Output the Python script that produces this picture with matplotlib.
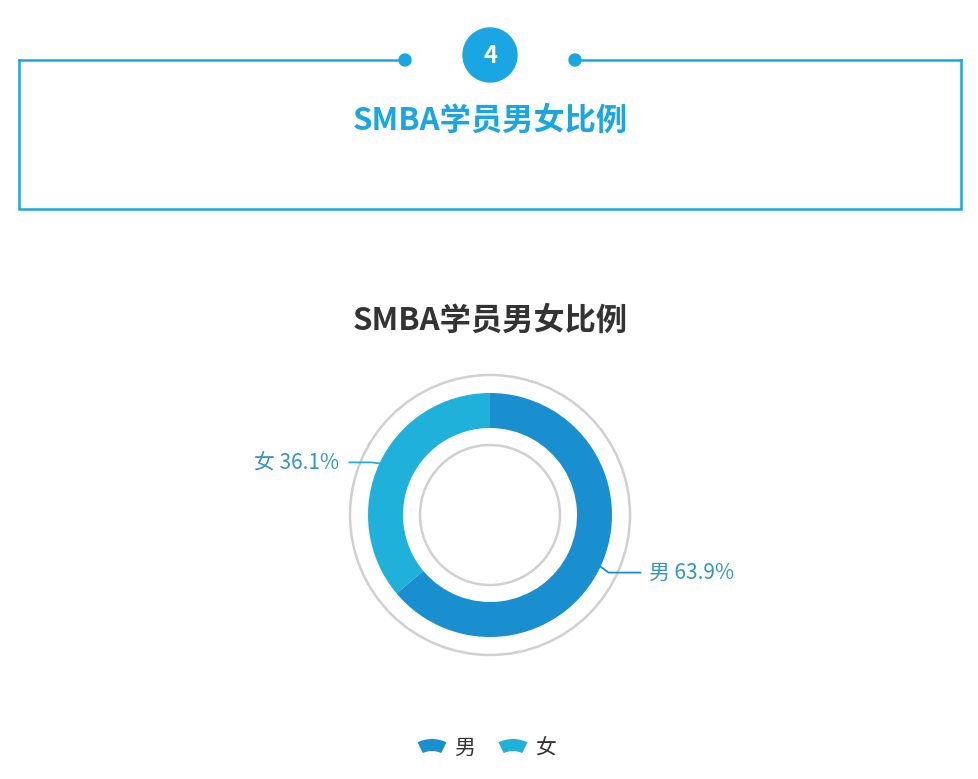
import matplotlib
matplotlib.use("Agg")
import matplotlib.pyplot as plt
from matplotlib.patches import Circle, Wedge
import numpy as np

plt.rcParams['font.family'] = ['Noto Sans CJK SC', 'DejaVu Sans']

# data
labels = ['男', '女']
shares = [63.9, 36.1]
colors = ['#1a8fd0', '#1fb1d9']
title = 'SMBA学员男女比例'
section_no = '4'

W, H = 979, 779
blue = '#1aa6e2'

fig = plt.figure(figsize=(W / 100, H / 100), dpi=100)
ax = fig.add_axes([0, 0, 1, 1])

# donut
cx, cy, r = 490, H - 515, 122
wedges, _ = ax.pie(shares, colors=colors, startangle=90, counterclock=False,
                   radius=r, center=(cx, cy), frame=True,
                   wedgeprops=dict(width=35, linewidth=0))
ax.set_xlim(0, W)
ax.set_ylim(0, H)
ax.set_aspect('auto')
ax.axis('off')
ax.add_patch(Circle((cx, cy), 140, fill=False, ec='#d0d0d0', lw=1.8))
ax.add_patch(Circle((cx, cy), 70, fill=False, ec='#d0d0d0', lw=1.8))

# header box (y measured from the bottom)
top = H - 60
bot = H - 209
ax.plot([19, 19, 961, 961], [top, bot, bot, top], color=blue, lw=1.8, solid_joinstyle='miter')
ax.plot([19, 405], [top, top], color=blue, lw=1.8)
ax.plot([575, 961], [top, top], color=blue, lw=1.8)
ax.add_patch(Circle((405, top), 6, color=blue, zorder=3))
ax.add_patch(Circle((575, top), 6, color=blue, zorder=3))
ax.add_patch(Circle((490, H - 55), 27, color=blue, zorder=3))
ax.text(490, H - 56, section_no, color='white', fontsize=17, fontweight='bold',
        ha='center', va='center', zorder=4)
ax.text(490, H - 121, title, color=blue, fontsize=22.5, fontweight='bold',
        ha='center', va='center')

# chart title
ax.text(490, H - 321, title, color='#333333', fontsize=22.5, fontweight='bold',
        ha='center', va='center')

# labels with leader lines
for w, lab, val, col in zip(wedges, labels, shares, colors):
    ang = np.deg2rad((w.theta1 + w.theta2) / 2)
    x0, y0 = cx + r * np.cos(ang), cy + r * np.sin(ang)
    if np.cos(ang) > 0:
        x1, y1 = x0 + 40, y0 - 6
        ha, tx = 'left', x1 + 8
    else:
        x1, y1 = x0 - 30, y0 + 1
        ha, tx = 'right', x1 - 10
    ax.plot([x0, x0 + np.sign(x1 - x0) * 8, x1], [y0, y1, y1], color=col, lw=1.3)
    ax.text(tx, y1, f'{lab} {val}%', color='#3596bd', fontsize=15,
            ha=ha, va='center')

# legend
leg_y = H - 748
for lx, lab, col in zip([432, 513], labels, colors):
    ax.add_patch(Wedge((lx, leg_y - 24), 33, 64, 116, width=12, color=col, lw=0))
    ax.text(lx + 22, leg_y, lab, color='#333333', fontsize=15, ha='left', va='center')

fig.savefig('out.png', dpi=100, facecolor='white')
